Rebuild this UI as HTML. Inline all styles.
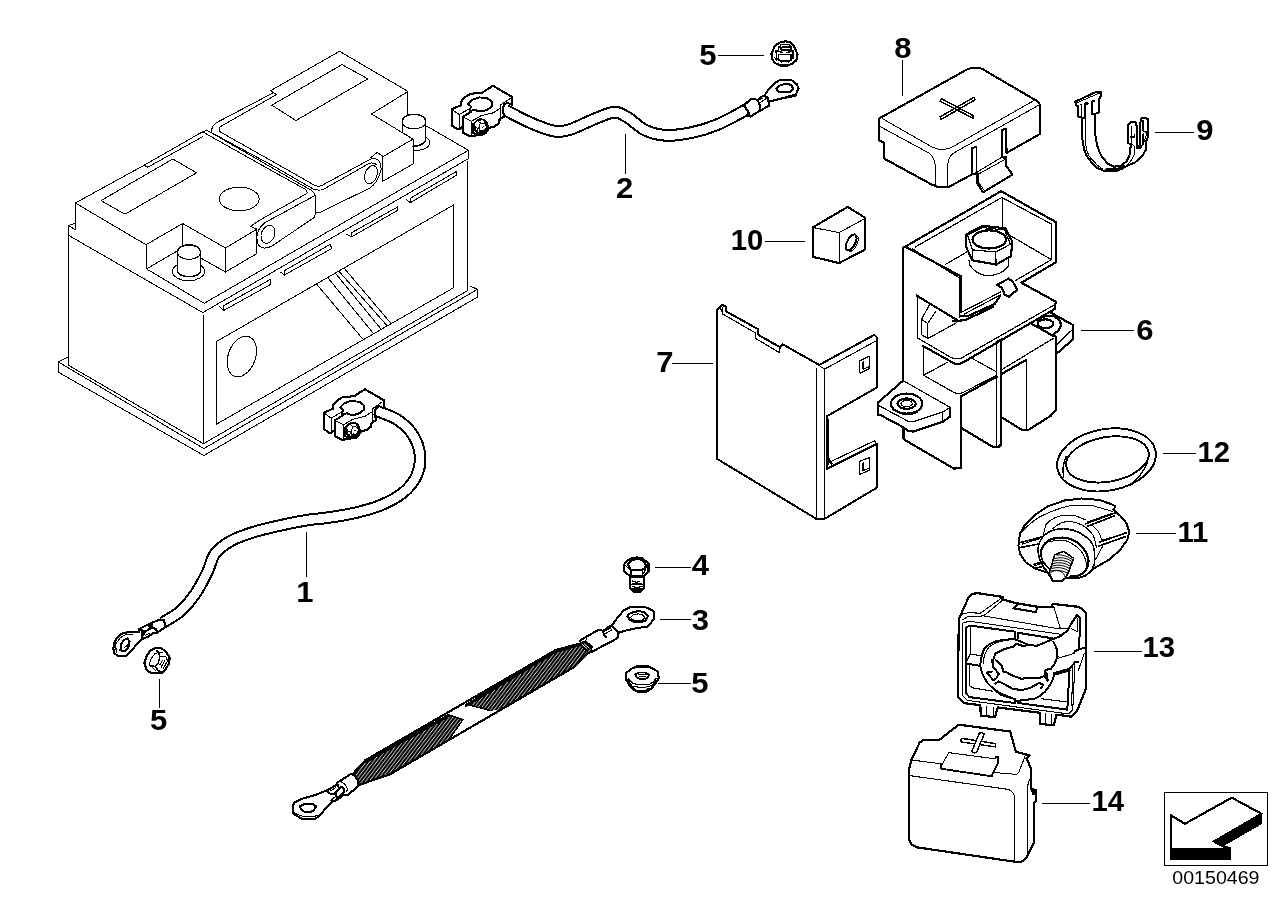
<!DOCTYPE html>
<html><head><meta charset="utf-8"><title>00150469</title>
<style>
html,body{margin:0;padding:0;background:#fff}
svg{display:block}
.t{fill:none;stroke:#000;stroke-width:1;stroke-linecap:round;stroke-linejoin:round}
.k{fill:none;stroke:#000;stroke-width:2.1;stroke-linecap:round;stroke-linejoin:round}
.m{fill:none;stroke:#000;stroke-width:1.5;stroke-linecap:round;stroke-linejoin:round}
.w{fill:#fff}
.b{fill:#000;stroke:none}
text{font-family:"Liberation Sans",Arial,Helvetica,sans-serif;fill:#000}
.lb{font-weight:bold;font-size:29px}
svg{will-change:transform}
</style></head><body>
<svg width="1288" height="910" viewBox="0 0 1288 910" shape-rendering="crispEdges">
<rect width="1288" height="910" fill="#fff"/>
<!-- battery -->
<g class="t" id="battery">
<!-- body -->
<path d="M68.5,225.5 V365.3 M68.5,225.5 L75.3,223.3 M68.5,225.5 L75.3,229.8"/>
<path d="M68.5,235.3 L202.8,312.6 L468.5,158.6"/>
<path d="M146.5,268.9 L204.2,303.3 L468.5,150.3"/>
<path d="M468.5,150.3 V158.6 M467.5,161 V290.7"/>
<path d="M426.7,126.1 L468.5,150.3"/>
<path d="M203.5,315 V443.7"/>
<path d="M68.5,365.3 L203.5,443.7 L467.5,290.7"/>
<path d="M68.5,356.7 L58.5,362 V372.3 L203.8,455.5 L477.5,297.1 V289.3 L470.5,286.2 M58.5,362 L203.8,448.6 L477.5,289.3"/>
<!-- front panel -->
<path d="M216.5,341.5 L453.5,205 V287.8 L216.5,424.2 Z"/>
<ellipse cx="241.8" cy="356.5" rx="13.6" ry="21" transform="rotate(20 241.8 356.5)"/>
<path d="M316.4,283.9 L362.8,339 M327.7,277.6 L372.8,332.7 M335.2,273 L380.3,328.2 M339,271.3 L386.6,325.2 M344,268 L390.4,322.7"/>
<!-- slots -->
<path d="M410.6,198.1 L456.5,171.4 V175.2 L410.6,202.5 Z M406.3,199.4 L410.2,202.5"/>
<path d="M351.8,232.6 L397.5,207 L397.8,210.2 L351.8,236.8 Z M346.2,234.3 L351.2,236.6"/>
<path d="M284.5,270.6 L330.5,244.2 L331.5,248.6 L284.5,275 Z M280.3,272 L284.4,275"/>
<path d="M223.6,305.7 L270.6,279.3 V284.4 L223.6,310.5 Z M219.2,306.4 L223.4,310.4"/>
<!-- left cover -->
<path d="M75.5,203 V229.8"/>
<path d="M75.3,203 L144,165.3 L147.8,167.2 L203,136.5"/>
<path d="M144,165.3 L199.5,133.5 Q203.5,130.2 207.9,130.8 L276,170 L309,189 Q315,192 315.2,196 V214.5 Q315,217.5 312,219"/>
<path d="M199.5,133.5 Q201.5,132.6 204.1,132.7 L276,173.1 L305.8,189.6 Q307.5,191.5 307,193.4 L261,219.4 L250.6,226.3 L256.3,228.9"/>
<path d="M75.3,203 L146,244.7 L182.7,223.5 L225.5,248 L256.8,229.2"/>
<path d="M146.5,244.7 V268.9 L177.3,250.9 M182.5,223.5 V245 M225.5,248 V272 L256.5,253.8 V229.2 M200.6,258 L225.5,272"/>
<path d="M101,200.6 L172.8,159 L196.6,172.8 L125,214.2 Z"/>
<ellipse cx="239.2" cy="199" rx="20" ry="11.8"/>
<!-- left handle -->
<path d="M312,219 L272,246 Q262,251 258,244 Q255.5,236 258.5,230.5 Q261.5,224.5 267,221.5 L314.5,195.8"/>
<ellipse cx="268" cy="234.3" rx="6.6" ry="9.3" transform="rotate(22 268 234.3)"/>
<!-- left terminal -->
<ellipse cx="188.5" cy="271.4" rx="16.1" ry="9.3" class="t w"/>
<path class="t w" d="M177.5,252 V271 A11.4,5.6 0 0 0 200.5,271 V252 Z"/>
<path class="m" d="M177.5,271 A11.4,5.6 0 0 0 200.5,271"/>
<ellipse cx="189" cy="252.2" rx="11.5" ry="7.2" class="t w"/>
<path class="m" d="M178.2,249.6 A11.5,7.2 0 0 1 199.8,249.6"/>
<!-- right cover -->
<path d="M339.5,51.3 L270.7,90.6 L276.3,94.7 L219.8,127 Q218.5,129.5 219.5,131.5 L276,163.4 L314.8,185.4 Q318,186.6 321,185.9 L370.4,159.2 Q375,157.5 378,160 Q381.5,163.5 381,170"/>
<path d="M272.5,93.2 L216,122.9 Q211.7,126 211.2,132.5 L276,167.5 L313.5,189.2 Q318,190.8 323,189.6 L369,163.5 Q373,162 376.5,164.5"/>
<path d="M339.5,51.3 L408,91.4 L371.5,114 L413,139.1 V164 L382.8,181.3 V156.7 L413,139.1"/>
<path d="M407.5,91.4 V115 M370.4,158 L377.3,152.4 L383.5,156.7"/>
<path d="M271.8,105.2 L342,64.6 L367.8,78.8 L296,120.5 Z"/>
<!-- right cover side face + handle -->
<path d="M315.2,212 L320.7,212 L369.2,188.4 Q378,183 381,170"/>
<ellipse cx="371" cy="174.7" rx="6" ry="9.4" transform="rotate(22 371 174.7)"/>
<!-- right terminal -->
<path class="t w" d="M425.8,137 Q430,139 429.6,144 Q428,150 414,150.7 L413,141 Z"/>
<path class="t w" d="M402.5,122 V132.5 L413,139.1 V146 Q422,145.5 425.8,141 V122 Z"/>
<path class="m" d="M413,146.5 Q422,146 425.8,141"/>
<ellipse cx="414" cy="121.7" rx="11.8" ry="7.2" class="t w"/>
<path class="m" d="M403,119 A11.8,7.2 0 0 1 425,119"/>
</g>

<!-- cables -->
<path d="M506.0,110.5 C509.6,112.3 521.2,118.5 527.7,121.5 C534.2,124.5 540.0,126.8 545.0,128.5 C550.0,130.2 553.6,131.3 557.8,131.5 C562.0,131.7 565.4,130.9 570.0,129.5 C574.6,128.1 580.3,125.2 585.4,123.0 C590.5,120.8 595.4,118.3 600.4,116.5 C605.4,114.7 610.8,112.0 615.4,112.2 C620.0,112.4 623.0,114.7 628.0,117.7 C633.0,120.7 639.2,127.4 645.5,130.3 C651.8,133.2 658.1,134.9 665.6,135.3 C673.1,135.7 682.2,134.5 690.6,132.8 C699.0,131.1 707.3,128.7 715.7,125.3 C724.1,121.9 734.8,116.0 740.8,112.7 C746.8,109.4 750.1,106.7 752.0,105.5" fill="none" stroke="#000" stroke-width="12.8" stroke-linecap="butt"/>
<path d="M506.0,110.5 C509.6,112.3 521.2,118.5 527.7,121.5 C534.2,124.5 540.0,126.8 545.0,128.5 C550.0,130.2 553.6,131.3 557.8,131.5 C562.0,131.7 565.4,130.9 570.0,129.5 C574.6,128.1 580.3,125.2 585.4,123.0 C590.5,120.8 595.4,118.3 600.4,116.5 C605.4,114.7 610.8,112.0 615.4,112.2 C620.0,112.4 623.0,114.7 628.0,117.7 C633.0,120.7 639.2,127.4 645.5,130.3 C651.8,133.2 658.1,134.9 665.6,135.3 C673.1,135.7 682.2,134.5 690.6,132.8 C699.0,131.1 707.3,128.7 715.7,125.3 C724.1,121.9 734.8,116.0 740.8,112.7 C746.8,109.4 750.1,106.7 752.0,105.5" fill="none" stroke="#fff" stroke-width="8.8" stroke-linecap="butt"/>
<path d="M378.0,411.3 C381.3,412.8 392.2,416.1 398.0,420.1 C403.8,424.1 409.3,429.2 413.0,435.1 C416.7,441.0 419.4,448.5 420.0,455.2 C420.6,461.9 419.6,468.9 416.8,475.2 C414.0,481.5 409.1,487.8 403.0,492.8 C396.9,497.8 388.4,502.0 380.5,505.3 C372.6,508.6 363.8,510.8 355.4,512.8 C347.0,514.8 338.8,516.0 330.4,517.3 C322.0,518.6 313.6,519.0 305.3,520.4 C297.0,521.8 288.7,523.5 280.3,525.4 C271.9,527.3 263.2,529.1 255.2,531.6 C247.1,534.1 238.6,536.8 232.0,540.4 C225.4,544.0 219.6,547.8 215.5,553.0 C211.4,558.2 210.8,565.0 207.6,571.5 C204.4,578.0 200.9,585.5 196.5,592.0 C192.1,598.5 186.6,605.6 181.0,610.7 C175.4,615.8 166.0,620.5 163.0,622.5" fill="none" stroke="#000" stroke-width="12.6" stroke-linecap="butt"/>
<path d="M378.0,411.3 C381.3,412.8 392.2,416.1 398.0,420.1 C403.8,424.1 409.3,429.2 413.0,435.1 C416.7,441.0 419.4,448.5 420.0,455.2 C420.6,461.9 419.6,468.9 416.8,475.2 C414.0,481.5 409.1,487.8 403.0,492.8 C396.9,497.8 388.4,502.0 380.5,505.3 C372.6,508.6 363.8,510.8 355.4,512.8 C347.0,514.8 338.8,516.0 330.4,517.3 C322.0,518.6 313.6,519.0 305.3,520.4 C297.0,521.8 288.7,523.5 280.3,525.4 C271.9,527.3 263.2,529.1 255.2,531.6 C247.1,534.1 238.6,536.8 232.0,540.4 C225.4,544.0 219.6,547.8 215.5,553.0 C211.4,558.2 210.8,565.0 207.6,571.5 C204.4,578.0 200.9,585.5 196.5,592.0 C192.1,598.5 186.6,605.6 181.0,610.7 C175.4,615.8 166.0,620.5 163.0,622.5" fill="none" stroke="#fff" stroke-width="8.6" stroke-linecap="butt"/>
<g transform="translate(444,78) scale(0.07032)">
<path class="w" stroke="#000" stroke-width="30" stroke-linejoin="round" d="M110,445 L245,385 L250,320 L310,265 L375,225 L545,208 L695,110 L968,268 L968,385 L900,350 L850,385 L832,470 L860,545 L790,590 L785,640 L720,690 L640,710 L600,775 L570,800 L400,825 L370,830 L265,775 L265,690 L215,730 L190,730 L110,675 Z"/>
<g fill="none" stroke="#000" stroke-linejoin="round" stroke-linecap="round">
<path stroke-width="28" d="M380,485 L395,462 L440,452 L480,470 L560,470 L620,450 L685,400 L690,345 L620,290 L500,275 L400,310 L345,370 L385,405 L372,440 L372,490 M380,485 L270,550 V770"/>
<path stroke-width="15" d="M125,455 L215,520 L370,432 M215,520 V720 M285,562 L390,615 L530,535 L700,495 L790,435 M390,615 V810 M800,390 V560 M805,385 L940,292"/>
<path stroke-width="15" d="M390,615 L520,540"/>
</g>
<ellipse cx="525" cy="690" rx="112" ry="118" fill="#000"/>
<path fill="#fff" d="M445,650 L480,610 L555,600 L580,640 L595,700 L565,745 L525,735 L495,775 L455,735 Z"/>
<path fill="none" stroke="#000" stroke-width="13" d="M470,760 L520,640 L590,650 M520,640 L480,610 M545,700 L575,690 M500,700 L505,780 M440,690 L480,720"/>
<path fill="none" stroke="#000" stroke-width="34" d="M408,640 L418,790 M420,800 L560,790"/>
</g>
<g transform="translate(316,381.5) scale(0.07032)">
<path class="w" stroke="#000" stroke-width="30" stroke-linejoin="round" d="M110,445 L245,385 L250,320 L310,265 L375,225 L545,208 L695,110 L968,268 L968,385 L900,350 L850,385 L832,470 L860,545 L790,590 L785,640 L720,690 L640,710 L600,775 L570,800 L400,825 L370,830 L265,775 L265,690 L215,730 L190,730 L110,675 Z"/>
<g fill="none" stroke="#000" stroke-linejoin="round" stroke-linecap="round">
<path stroke-width="28" d="M380,485 L395,462 L440,452 L480,470 L560,470 L620,450 L685,400 L690,345 L620,290 L500,275 L400,310 L345,370 L385,405 L372,440 L372,490 M380,485 L270,550 V770"/>
<path stroke-width="15" d="M125,455 L215,520 L370,432 M215,520 V720 M285,562 L390,615 L530,535 L700,495 L790,435 M390,615 V810 M800,390 V560 M805,385 L940,292"/>
<path stroke-width="15" d="M390,615 L520,540"/>
</g>
<ellipse cx="525" cy="690" rx="112" ry="118" fill="#000"/>
<path fill="#fff" d="M445,650 L480,610 L555,600 L580,640 L595,700 L565,745 L525,735 L495,775 L455,735 Z"/>
<path fill="none" stroke="#000" stroke-width="13" d="M470,760 L520,640 L590,650 M520,640 L480,610 M545,700 L575,690 M500,700 L505,780 M440,690 L480,720"/>
<path fill="none" stroke="#000" stroke-width="34" d="M408,640 L418,790 M420,800 L560,790"/>
</g>

<!-- strap -->
<defs>
<pattern id="braid" patternUnits="userSpaceOnUse" width="4" height="4" patternTransform="rotate(-8)">
<rect width="4" height="4" fill="#000"/>
<path d="M-1,3 L3,-1 M1,5 L5,1" stroke="#fff" stroke-width="1.05"/>
</pattern>
</defs>
<g stroke-linejoin="round" stroke-linecap="round">
<path fill="url(#braid)" stroke="none" d="M352.7,774.1 L365.2,760.3 L448.1,714.6 L462.9,719.5 L450,738.6 L390.3,774.1 L357.7,785.4 Z"/>
<path fill="url(#braid)" stroke="none" d="M466.4,704.1 L555.7,650 L578.2,643.8 L590.8,650 L573.2,667.6 L500,710 L491,710.7 Z"/>
<path class="k" style="stroke-width:2.2" d="M352.7,774.1 L365.2,760.3 L555.7,650 L579,643.8 M357.7,785.4 L390.3,774.1 L573.2,667.6 L590,651"/>
<path fill="none" stroke="#000" stroke-width="3.2" d="M366,761.3 L448.1,715.9 M466.4,705.3 L555.7,651.2 L577,645.2"/>
<path class="m" d="M448.1,714.6 L462.9,719.5 L450,738 M466.4,704.1 L491,710.7"/>
</g>
<g fill="none" stroke="#000" stroke-linejoin="round" stroke-linecap="round">
<!-- right ring terminal 3 -->
<g transform="translate(575,598) scale(0.070323)">
<path fill="#fff" stroke-width="30" d="M65,610 L120,575 L300,470 L355,450 L400,470 L500,395 L520,400 L600,285 L690,180 L800,125 L990,125 L1115,185 L1130,290 L1035,405 L870,430 L690,470 L610,500 L615,545 L590,580 L230,770 L235,690 L150,620 L90,640 Z"/>
<path stroke-width="30" d="M745,260 L770,225 L830,200 L910,185 L990,205 L1040,255 L1000,320 L930,345 L850,340 L780,310 Z M400,475 L410,520 L440,560 M520,400 L570,440 L600,470 L612,500"/>
<path stroke-width="15" d="M790,275 L830,240 L900,225 L960,240 L995,280 L960,315 L890,325 L820,310 Z M420,470 L510,425 M430,510 L520,455 M150,620 L160,580"/>
<path fill="#000" stroke-width="15" d="M235,690 L235,770 L200,790 L60,650 L90,640 L150,620 Z"/>
<path stroke="#fff" stroke-width="14" d="M100,660 L170,720 M130,650 L200,710 M190,760 L215,735"/>
</g>
<!-- left ring terminal 3 -->
<g transform="translate(285,770) scale(0.070323)">
<path fill="#fff" stroke-width="30" d="M580,295 L430,355 L240,410 L130,465 L110,530 L120,620 L240,695 L430,695 L500,640 L600,520 L690,440 L740,430 L830,350 L900,350 L1040,230 L1040,160 L1000,85 L940,55 L790,150 L740,180 L730,215 L640,265 Z"/>
<path stroke-width="30" d="M210,520 L280,480 L390,480 L445,520 L400,580 L350,600 L290,600 L235,570 Z M650,340 L700,340 L800,240 L830,250 L840,320 L740,400 L720,330 M580,295 L650,340 M740,185 L760,240"/>
<path stroke-width="15" d="M140,610 L220,650 L300,665 L430,655 L480,640 M640,300 L720,250 M800,170 L860,210 L885,260 L880,310 M650,440 L700,390"/>
</g>
</g>

<!-- small -->
<g fill="none" stroke="#000" stroke-linejoin="round" stroke-linecap="round">
<!-- ring terminal cable 2 -->
<g transform="translate(730,66) scale(0.070323)">
<path fill="#fff" stroke-width="30" d="M195,560 L310,465 L350,465 L395,490 L440,440 L490,420 L550,330 L640,240 L700,205 L780,195 L880,205 L950,260 L975,320 L930,420 L850,440 L700,470 L560,505 L560,560 L440,630 L425,635 L290,720 L250,710 L250,640 Z"/>
<path stroke-width="30" d="M655,320 L720,270 L790,255 L860,265 L900,315 L860,370 L700,370 Z M395,490 L420,540 L425,630 M490,425 L545,450 L545,500 L560,520 M205,565 L250,640"/>
<path stroke-width="15" d="M405,490 L470,455 M430,520 L520,460 M270,650 V700 M690,465 L930,400"/>
</g>
<!-- nut 5 top -->
<g transform="translate(730,30) scale(0.070323)">
<path fill="#fff" stroke-width="30" d="M590,340 L635,230 L700,180 L790,160 L860,175 L915,240 L960,350 L945,430 L880,480 L820,505 L720,505 L650,475 L600,420 Z"/>
<path stroke-width="21" d="M725,205 L840,205 L868,240 L850,292 L740,292 L712,250 Z M680,300 L700,235 M880,300 L870,235 M680,300 L750,320 M880,300 L810,320 M690,350 L870,350 L870,430 L820,442 L740,442 L690,430 Z M655,290 L665,400 L735,455 M900,290 L895,400 L830,455"/>
<path stroke-width="15" d="M740,235 H840 M735,255 H845 M745,272 H840 M625,385 L665,430"/>
</g>
<!-- ring terminal cable 1 + nut 5 bottom-left -->
<g transform="translate(100,620) scale(0.070323)">
<path fill="#fff" stroke-width="30" d="M190,400 L205,320 L250,240 L320,190 L430,165 L555,170 L560,125 L660,75 L740,40 L830,0 L910,0 L930,100 L810,185 L745,190 L700,230 L600,270 L365,515 L260,515 L200,470 Z"/>
<path stroke-width="30" d="M290,430 L300,340 L340,285 L385,262 L420,300 L415,360 L380,420 L340,445 Z M600,185 L600,270 M740,50 L735,110 L800,130 L810,185 M560,130 L640,165 L735,110"/>
<path stroke-width="40" d="M590,140 L620,200 M690,70 L720,110"/>
<path stroke-width="15" d="M230,470 L225,340 L290,250 L360,210 L470,200 M640,220 L700,190 M350,390 L400,350 M360,420 L410,380"/>
<path fill="#fff" stroke-width="30" d="M630,610 L660,520 L710,440 L770,405 L860,400 L930,440 L990,530 L985,610 L940,690 L880,750 L790,760 L710,745 L660,700 Z"/>
<path stroke-width="21" d="M830,460 L850,520 L930,520 M850,520 L830,610 L780,660 M700,650 L780,660 L830,720 L880,745 M940,540 L960,580 M800,430 L830,460 L890,460"/>
<path stroke-width="15" d="M700,650 L720,560 L780,480 L830,460 M850,640 L890,570 M870,670 L920,580 M900,690 L950,600 M730,660 L790,720"/>
</g>
<!-- bolt 4 -->
<g transform="translate(600,550) scale(0.070323)">
<path fill="#fff" stroke-width="30" d="M345,205 L385,150 L450,120 L530,105 L600,120 L690,190 L690,305 L620,370 L620,545 L580,590 L475,590 L430,545 L430,375 L345,305 Z"/>
<path stroke-width="30" d="M395,200 L450,145 L530,125 L600,140 L655,210 L630,270 L580,282 L440,282 Z M430,375 H620 M470,575 H585"/>
<path stroke-width="18" d="M355,215 L440,290 V370 M600,288 V370 M660,215 L688,192 M455,395 H600 M455,485 H600 M465,555 H590"/>
<path stroke-width="15" d="M662,240 L622,330 M460,440 L520,460 L565,445 M460,520 L530,535 L600,515"/>
</g>
<!-- nut 5 right -->
<g transform="translate(600,650) scale(0.070323)">
<path fill="#fff" stroke-width="30" d="M375,325 L440,270 L520,235 L690,235 L770,275 L825,310 L835,400 L800,460 L740,540 L650,600 L560,600 L480,570 L420,500 L375,430 Z"/>
<path stroke-width="27" d="M500,350 L560,320 L650,320 L695,355 L680,390 L630,415 L570,415 L520,385 Z M385,420 L440,500 L480,555 M790,440 L740,510"/>
<path stroke-width="15" d="M400,410 L450,460 L520,490 L700,490 L760,450 L800,400 M545,355 H660 M560,378 L650,380 M470,520 L540,527 L650,527 L720,510 M490,545 L510,570 L570,580 L640,575 L690,545 M420,440 L470,480"/>
</g>
</g>

<!-- box8 -->
<g id="box8">
<path class="k w" d="M879.1,121.5 V119.8 Q879.3,118 882.6,116.6 L966.4,69.8 Q973.4,66.3 981.8,68.7 L1034.9,99.8 Q1039.8,102 1039.8,105.5 V134.1 L1006.5,152.9 L1006.3,128.6 L1001.6,130.3 L1002.1,156.4 L1006.3,157.3 V165.8 L1012.4,174.6 L983,192.4 L976.9,182.6 V173.2 L971.7,174.6 L948.9,186.8 H937.5 L931.5,184.4 L884,158.5 V142.5 L879.1,140.4 Z"/>
<g class="t">
<path d="M882.6,118.7 L931.5,146.7 Q937.1,149.6 941.5,149.6 Q948,149.6 953.9,146 L1033.5,100.8"/>
<path d="M879.8,126.4 L928.7,152.9 Q934.3,156.5 935.4,166.2 V185.5"/>
<path d="M1038.4,105.4 L953.9,152.9 Q948,156.5 947.6,166.2 V186"/>
<path d="M977.3,171.9 L1001.6,157.4 L1004.4,158.3 M978.3,174.2 L1004.4,159.7 M978.3,174.2 L978.7,182.6 L983.9,190"/>
<path d="M976.4,146.6 L976.9,173.2"/>
</g>
<path class="k" d="M971.7,174.6 V148.5 L976.4,146.6"/>
<path class="m" d="M941.3,98.6 L973.2,115.6 L973,118.2 L940.2,101.2 Z M940.2,116.8 L974,97.2 L975.2,99.8 L941,119.4 Z"/>
</g>

<!-- clip9 -->
<g transform="translate(1066,84) scale(0.078)" fill="none" stroke="#000" stroke-linejoin="round" stroke-linecap="round">
<path stroke-width="26" d="M365,215 L330,225 V385 L415,375 L425,350 L430,170 L455,145 L445,98 L390,100 L120,225 L125,275 L160,280 V415 L190,430 H240 V250 H280"/>
<path stroke-width="13" d="M135,243 L425,118 M180,265 H200 V415 M250,430 V750 L265,850 L300,930 L400,1040 L470,1090"/>
<path stroke-width="26" d="M200,430 V605 L215,750 L235,850 L270,930 L330,1010 L400,1075 L490,1115 H650 L720,1085 L800,1040 L880,1010 L980,920 L1020,850 L1025,740 L1055,665 L1050,450 L1005,430 L965,440 L945,545 V790 H915 L910,550 L890,490 L845,480 L790,530 V750 L830,780 L820,900 L780,990 L700,1050 L615,1060 L540,1025 L460,935 L430,870 L400,790 L385,710 L370,605 V385"/>
<path stroke-width="30" d="M520,1095 H660 L740,1050"/>
<path stroke-width="20" d="M830,680 H880 V650 M985,470 V600 L1040,620 M990,640 L985,780 L950,820 L905,825 V790"/>
<path stroke-width="13" d="M845,540 V760 M845,770 L880,800 L875,900 L850,960 L790,1040 M1035,640 L1000,740"/>
</g>

<!-- box10 -->
<g transform="translate(790,196) scale(0.078)" fill="none" stroke="#000" stroke-linejoin="round" stroke-linecap="round">
<path fill="#fff" stroke-width="27" d="M295,400 L740,140 L965,280 V685 L630,860 L295,780 Z"/>
<path stroke-width="13" d="M300,405 L630,470 L955,292 M630,470 V855"/>
<ellipse cx="808" cy="608" rx="52" ry="112" transform="rotate(27 808 608)" stroke-width="13"/>
<ellipse cx="785" cy="595" rx="52" ry="112" transform="rotate(27 785 595)" stroke-width="26" fill="#fff"/>
</g>

<!-- part6 -->
<g transform="translate(890,180) scale(0.13976)" fill="none" stroke="#000" stroke-linejoin="round" stroke-linecap="round">
<g stroke-width="8.5">
<path d="M180,480 L800,125 L1155,315 V570 L900,718 M803,125 V345 M1155,570 L865,400 M395,605 L550,515"/>
<path d="M160,492 L495,700 V982"/>
<path d="M555,395 L660,340 L820,358 L862,460 L755,515 L590,500 Z M590,500 V575 M755,515 L760,605 M565,575 L570,610 Q620,680 700,685 Q800,680 845,620 L850,560"/>
<path d="M800,770 L880,730 M510,947 L790,802 M530,960 L790,822"/>
<path d="M200,1132 L440,1272 Q475,1287 510,1275 L1170,897"/>
<path d="M195,832 V1127 L200,1132 M280,897 L225,997 V1107 L270,1132 V1027 L330,937 M225,997 L270,1027 M275,1132 L475,1022"/>
<path d="M240,1197 V1397 L415,1302 M240,1397 L460,1522 Q490,1535 520,1522 L765,1397 M590,1277 L760,1372"/>
<path d="M762,1159 V1900 M800,1357 L1170,1132 M976,1287 V1785"/>
<path d="M102,1440 L427,1625 M-78,1615 L127,1725 L167,1730 L377,1660 L427,1630 M377,1660 V1720 M17,1630 Q60,1680 127,1680 Q180,1675 197,1660"/>
<ellipse cx="119" cy="1600" rx="40" ry="22"/>
<path d="M1186,1185 L1304,1071"/>
</g>
<g stroke-width="15.5">
<path d="M95,1434 V485 L795,80 L1185,300 V590 L940,735 L1185,870 V877 L1180,922 L520,1307 Q480,1325 450,1307 L235,1187"/>
<path d="M110,478 L510,690 V947"/>
<path d="M545,390 L660,328 L825,345 L875,440 L865,545 L760,605 L590,575 L545,480 Z"/>
<ellipse cx="710" cy="425" rx="120" ry="65"/>
<path fill="#fff" d="M765,750 L850,705 L880,730 L910,785 L850,835 L820,820 L800,770 Z"/>
<path d="M500,972 L560,972 L750,887 L790,827 M450,1012 L540,1002 L740,907"/>
<path d="M190,827 L480,1002"/>
<path d="M797,1140 V1890 L777,1910 H737 L512,1775 M762,1159 L797,1140"/>
<path d="M800,1387 L975,1287 M1010,1027 L1170,1117 H1185 V1647 L1150,1687 L987,1790 H947 L802,1700"/>
<path d="M510,1547 L765,1407 M510,1547 V2060 L457,2065 L97,1855 V1770"/>
<path d="M95,1434 L-88,1594 V1680 L-63,1685 L97,1770 L127,1795 L167,1800 L377,1731 L427,1695 V1630"/>
<ellipse cx="119" cy="1600" rx="112" ry="72"/>
<ellipse cx="119" cy="1600" rx="65" ry="37"/>
<ellipse cx="1112" cy="1029" rx="56" ry="32"/>
<path d="M1150,948 L1311,1039 V1139 L1190,1244 M1045,1005 Q1110,960 1170,975 Q1225,1000 1222,1040 Q1215,1075 1175,1100"/>
</g>
</g>

<!-- br7 -->
<g transform="translate(640,296) scale(0.25063)" fill="none" stroke="#000" stroke-linejoin="round" stroke-linecap="round">
<g stroke-width="8">
<path fill="#fff" d="M308,55 L330,35 L345,45 V62 L472,133 V155 L560,205 L568,192 L715,275 L935,155 L945,165 V365 L745,480 V690 L945,590 V765 L735,890 H705 L308,650 Z"/>
</g>
<g stroke-width="4.5">
<path d="M322,50 L330,72 L462,148 V170 L555,225 L560,205 M330,72 L328,45"/>
<path d="M705,290 V888 M735,292 V888 M715,275 Q722,288 740,290 L940,180"/>
<path d="M752,492 V665 L935,578 L945,590 M745,690 L752,665"/>
<path d="M875,260 L915,240 V290 L878,308 Z M890,262 V292 L912,283 M875,660 L915,645 V695 L878,712 Z M890,665 V697 L912,688"/>
</g>
<path stroke-width="9" d="M752,650 L765,668"/>
</g>

<!-- ring12 -->
<g fill="none" stroke="#000">
<ellipse cx="1106.5" cy="459.9" rx="49.8" ry="30.8" transform="rotate(-10 1106.5 459.9)" stroke-width="1.9"/>
<ellipse cx="1107.4" cy="459.4" rx="41.8" ry="22.3" transform="rotate(-10 1107.4 459.4)" stroke-width="1.9"/>
<path stroke-width="1.5" d="M1063.8,478 Q1061.5,465 1066.5,456 M1130,485 Q1142,476 1147.5,462"/>
</g>

<!-- part11 -->
<g transform="translate(1010,490) scale(0.0994)" fill="none" stroke="#000" stroke-linejoin="round" stroke-linecap="round">
<path fill="#fff" stroke-width="20" d="M85,560 L100,440 L150,350 L250,250 L380,165 L550,105 L720,85 L900,100 L1040,150 L1060,165 L1040,200 L1110,260 L1170,330 L1200,420 L1180,500 L1110,600 L1000,700 L850,785 L760,862 L700,882 L560,882 L520,917 L430,912 L380,832 L250,790 L160,730 L100,640 Z"/>
<g stroke-width="10.5">
<path d="M110,430 Q200,330 300,270 Q450,190 600,160 Q720,150 840,160 L1030,215"/>
<path d="M335,450 L360,350 Q400,300 450,280 Q510,255 560,255 L660,260 L760,300"/>
<path d="M430,390 Q470,350 520,330 Q560,315 600,315 Q670,325 720,350 Q770,380 800,410 Q840,450 850,490 L870,580"/>
<path d="M830,360 Q870,390 890,420 Q915,460 920,500 M930,570 L860,700"/>
<path d="M120,545 L300,490 M780,320 L1030,235 M920,505 L1160,440 M250,760 L320,740"/>
<path d="M400,520 Q480,495 560,510 Q650,540 720,620 Q770,700 770,760"/>
</g>
<g stroke-width="17">
<path d="M100,530 L330,470 M100,580 L280,545 M760,340 L1060,230 M780,365 L1050,260 M900,525 L1170,430 M890,565 L1160,470 M240,748 L310,728 M250,788 L330,768 L350,798"/>
<path d="M280,600 Q290,520 330,470 Q380,420 450,400 Q510,385 560,390 Q640,400 700,430 Q770,470 810,510 Q845,560 850,620 V740 L830,790"/>
<path d="M280,600 Q290,700 330,760 L380,832"/>
<path stroke-width="22" d="M310,640 Q315,580 350,540 Q390,500 430,490 Q500,475 560,480 Q630,495 680,530 Q730,570 760,620 Q790,680 790,720 Q785,770 760,810 Q730,845 690,860 L600,872"/>
<path d="M310,640 Q315,690 330,720 L400,800"/>
</g>
<path fill="#fff" stroke-width="16" d="M450,652 L540,617 L640,687 L590,822 L560,882 L520,917 L430,912 L395,832 Z"/>
<g stroke-width="10">
<path d="M448,690 Q540,660 625,720 M440,715 Q530,685 618,745 M432,740 Q525,710 610,768 M425,765 Q515,735 602,792 M418,790 Q510,760 595,815 M410,815 Q500,790 585,840 M470,655 Q540,640 630,700"/>
<path d="M405,835 Q440,800 500,815 Q550,835 555,880"/>
</g>
</g>

<!-- part13 -->
<g transform="translate(952,586) scale(0.10881)" fill="none" stroke="#000" stroke-linejoin="round" stroke-linecap="round">
<path fill="#fff" stroke-width="20.5" d="M55,1016 L60,470 L65,300 L150,110 L180,75 L230,65 L465,100 V125 L600,160 L780,190 H920 L925,165 L1150,190 L1190,205 L1235,250 V936 L1150,1146 L1100,1201 L960,1183 L935,1281 L810,1266 L805,1164 L420,1116 L395,1206 L265,1191 L260,1096 L110,1076 Z"/>
<g stroke-width="9.6">
<path d="M90,260 L150,245 L260,250 L450,115 M100,310 L140,282 L290,275 L460,135 M290,275 L990,395 L1075,385 M110,335 L170,325 L1010,445 M935,190 L995,390"/>
<path d="M95,500 V1006 L140,1051 L1070,1176 L1110,1136 L1130,700 M95,500 L100,340"/>
<path d="M170,370 V620 L135,690 M170,625 L260,640 M160,716 V916 L190,936 L370,966 M820,1036 L1060,1066"/>
<path d="M285,720 Q290,620 340,560 Q400,515 470,505 M300,850 Q360,960 470,1010 M1150,300 V420 L1100,395 M1215,620 L1160,780 M1110,720 L1100,1100 M970,665 L1120,620"/>
<path d="M315,1106 L320,1196 M380,1116 V1201 M860,1176 L862,1268 M915,1183 V1276"/>
</g>
<g stroke-width="18.5">
<path d="M565,205 L770,240 L785,195 M570,205 L600,175"/>
<path d="M125,415 L135,375 L175,365 L580,420 V490 M125,415 V700 M125,710 L260,735 M605,430 L610,480 M605,430 L920,480 L900,500"/>
<path d="M130,711 V986 L160,1021 L580,1076 V1041 L440,996 M600,1056 L610,1076 L1060,1136 L1080,776 L940,816"/>
<path d="M260,735 Q262,650 300,570 Q340,530 400,510 Q470,490 580,490 L700,540 L780,550 L900,500 L1000,460 L1060,410 L1100,340 L1150,265 L1175,290 L1170,580 L1130,600 L1120,620"/>
<path d="M260,735 Q265,800 330,896 Q380,950 440,986 L580,1041 M940,816 Q920,900 850,976 Q800,1020 760,1036 L600,1056"/>
<path d="M370,700 L400,620 L480,580 L570,555 L590,530 L660,555 L700,540 M930,510 L960,570 L970,650 L940,720 L910,761 L860,771 L850,826 L800,846 L630,851 L540,816 L510,796 L470,786 L460,736 L400,680"/>
<path d="M370,676 L380,746 L430,806 L410,846 L380,866 L320,796 L370,786 M400,896 L430,876 L470,896 L560,946 L640,956 L720,936 L800,891 L840,906 L820,936 M850,826 L880,870 L870,800"/>
<path d="M1215,570 L1170,580 M940,800 L1080,760 L1130,700 H1160"/>
</g>
</g>

<!-- part14 -->
<g transform="translate(896,716) scale(0.12422)" fill="none" stroke="#000" stroke-linejoin="round" stroke-linecap="round">
<path fill="#fff" stroke-width="17.5" d="M105,990 V430 L125,350 L190,215 L215,195 H345 L505,70 L920,125 L965,290 L1075,315 L1050,340 L1090,430 V590 L1125,595 V690 L1110,700 V1017 L1045,1148 Q1020,1180 970,1175 L174,1058 Q110,1040 105,990 Z"/>
<g stroke-width="8.6">
<path d="M130,355 L365,385 M110,480 L900,590 Q940,600 955,650 V1170 M1040,320 L990,450 L970,470 L790,455 M1075,510 L1060,560 V1120"/>
<path d="M365,400 L425,295 L800,345"/>
</g>
<path stroke-width="15" d="M365,385 V425 L770,485 L825,370 L820,330 L800,330"/>
<path stroke-width="12" fill="#fff" d="M530,180 L800,222 V248 L530,210 Q515,195 530,180 Z"/>
<path stroke-width="12" fill="#fff" d="M670,140 Q690,125 710,145 L650,290 Q630,305 610,285 Z"/>
<path fill="#000" stroke="none" d="M1088,588 L1127,594 V642 L1093,636 Z"/>
</g>

<!-- arrow -->
<g>
<rect x="1164.7" y="792.8" width="103" height="72.6" fill="#fff" stroke="#000" stroke-width="1.1"/>
<path d="M1171,815.4 L1184.9,823.8 L1231.8,797.7 L1261.5,813.8 L1214,841.5 L1223.4,846.5 L1229.8,848 V858.8 H1171 Z" fill="#fff" stroke="#000" stroke-width="2.2" stroke-linejoin="miter"/>
<path class="b" d="M1261.5,812.8 L1262.3,823.8 L1223.8,846 L1213.4,841.1 Z"/>
<rect class="b" x="1170.3" y="848" width="59.5" height="10.8"/>
<text x="1172.3" y="884.3" font-size="17.6" textLength="87.2" lengthAdjust="spacingAndGlyphs">00150469</text>
</g>

<!-- labels -->
<g class="lb">
<text transform="translate(297,602) scale(1.07,1)" x="-0.6" y="-0.3">1</text>
<text transform="translate(616.7,198) scale(1.07,1)" x="-0.6" y="-0.3">2</text>
<text transform="translate(692.5,630) scale(1.07,1)" x="-0.6" y="-0.3">3</text>
<text transform="translate(692.5,575) scale(1.07,1)" x="-0.6" y="-0.3">4</text>
<text transform="translate(700,65) scale(1.07,1)" x="-0.6" y="-0.3">5</text>
<text transform="translate(150.7,730.5) scale(1.07,1)" x="-0.6" y="-0.3">5</text>
<text transform="translate(691.8,693.4) scale(1.07,1)" x="-0.6" y="-0.3">5</text>
<text transform="translate(1137,340.4) scale(1.07,1)" x="-0.6" y="-0.3">6</text>
<text transform="translate(657,372.4) scale(1.07,1)" x="-0.6" y="-0.3">7</text>
<text transform="translate(895,58) scale(1.07,1)" x="-0.6" y="-0.3">8</text>
<text transform="translate(1196.8,140) scale(1.07,1)" x="-0.6" y="-0.3">9</text>
<text transform="translate(731.4,250) scale(1.01,1)" x="-0.6" y="-0.3">10</text>
<text transform="translate(1178,542.3) scale(1.01,1)" x="-0.6" y="-0.3">11</text>
<text transform="translate(1198,462.6) scale(1.01,1)" x="-0.6" y="-0.3">12</text>
<text transform="translate(1143,657.7) scale(1.01,1)" x="-0.6" y="-0.3">13</text>
<text transform="translate(1092,810.9) scale(1.01,1)" x="-0.6" y="-0.3">14</text>
</g>
<g class="t" style="stroke-width:1;stroke-linecap:butt">
<path d="M306.5,532 L306.5,577"/>
<path d="M625.5,134 L625.5,174"/>
<path d="M660.4,619.5 L691,619.5"/>
<path d="M655,567.5 L691,567.5"/>
<path d="M718,55.5 L764,55.5"/>
<path d="M159.5,679 L159.5,708.4"/>
<path d="M658,683.5 L691,683.5"/>
<path d="M1080.5,330.5 L1134.4,330.5"/>
<path d="M672,363.5 L713.2,363.5"/>
<path d="M902.5,60 L902.5,96.4"/>
<path d="M1155.2,132.5 L1194.2,132.5"/>
<path d="M765.2,241.5 L805.3,241.5"/>
<path d="M1136.2,533.5 L1175.6,533.5"/>
<path d="M1162.5,453.5 L1195.6,453.5"/>
<path d="M1094.2,651.5 L1141.9,651.5"/>
<path d="M1042.4,803.5 L1090,803.5"/>
</g>


</svg>
</body></html>
